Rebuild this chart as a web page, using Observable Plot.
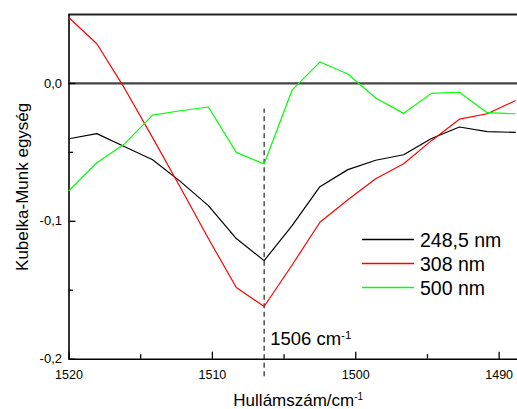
<!DOCTYPE html>
<html>
<head>
<meta charset="utf-8">
<script src="https://cdn.jsdelivr.net/npm/d3@7"></script>
<script src="https://cdn.jsdelivr.net/npm/@observablehq/plot@0.6"></script>
<style>
  html, body { margin: 0; padding: 0; background: #fff; }
  #chart { width: 517px; height: 409px; }
</style>
</head>
<body>
<div id="chart"></div>
<script>
// ---- data ----
const wavenumbers = [1520.00, 1518.06, 1516.11, 1514.17, 1512.22, 1510.28, 1508.33, 1506.39, 1504.44, 1502.50, 1500.55, 1498.61, 1496.66, 1494.72, 1492.77, 1490.83, 1488.88];
const series248 = [-0.0401, -0.0364, -0.0459, -0.0553, -0.0712, -0.0886, -0.1125, -0.1285, -0.1031, -0.0749, -0.0625, -0.0557, -0.0517, -0.0399, -0.0316, -0.0350, -0.0355];
const series308 = [0.0476, 0.0288, -0.0038, -0.0393, -0.0756, -0.1125, -0.1480, -0.1618, -0.1317, -0.1007, -0.0843, -0.0691, -0.0582, -0.0415, -0.0259, -0.0220, -0.0125];
const series500 = [-0.0778, -0.0575, -0.0437, -0.0230, -0.0198, -0.0171, -0.0500, -0.0584, -0.0048, 0.0155, 0.0068, -0.0106, -0.0217, -0.0072, -0.0064, -0.0212, -0.0220];
const seriesNames = ["248,5 nm", "308 nm", "500 nm"];
const seriesColors = ["#000000", "#ff0000", "#00ff00"];
const xMajorTicks = [1520, 1510, 1500, 1490];
const xMinorTicks = [1515, 1505, 1495];
const yMajorTicks = [0, -0.1, -0.2];
const yMinorTicks = [-0.05, -0.15];
const xDomain = [1520, 1488.72];
const yDomain = [-0.2, 0.05];
const peakWavenumber = 1506.39;
const peakLabel = "1506 cm";
const xTitle = "Hullámszám/cm";
const yTitle = "Kubelka-Munk egység";

// ---- build table ----
const allSeries = [series248, series308, series500];
const rows = [];
allSeries.forEach((vals, s) => vals.forEach((v, i) => rows.push({x: wavenumbers[i], y: v, s: seriesNames[s]})));

const W = 517, H = 409;
const mL = 68.5, mR = 0, mT = 14, mB = 50.3;
const plotH = H - mT - mB;
const pxToY = (px) => px * (yDomain[1] - yDomain[0]) / plotH;
const pxToX = (px) => px * (xDomain[0] - xDomain[1]) / (W - mL - mR);
const fmt = d => d.toFixed(1).replace(".", ",");
const font = "'Liberation Sans', Arial, Helvetica, sans-serif";

const chart = Plot.plot({
  width: W, height: H,
  marginLeft: mL, marginRight: mR, marginTop: mT, marginBottom: mB,
  style: {fontFamily: font, background: "#fff", color: "#000"},
  x: {domain: xDomain, axis: null},
  y: {domain: yDomain, axis: null},
  color: {domain: seriesNames, range: seriesColors},
  marks: [
    // zero line & top frame
    Plot.ruleY([0], {stroke: "#444", strokeWidth: 2.2}),
    Plot.ruleY([yDomain[1]], {stroke: "#222", strokeWidth: 1.8}),
    // axes lines
    Plot.ruleX([xDomain[0]], {stroke: "#000", strokeWidth: 1.6}),
    Plot.ruleY([yDomain[0]], {stroke: "#000", strokeWidth: 1.6}),
    // inward ticks
    Plot.ruleX(xMajorTicks, {y1: yDomain[0], y2: yDomain[0] + pxToY(7), stroke: "#000", strokeWidth: 1.3}),
    Plot.ruleX(xMinorTicks, {y1: yDomain[0], y2: yDomain[0] + pxToY(4.5), stroke: "#000", strokeWidth: 1.3}),
    Plot.ruleY(yMajorTicks, {x1: xDomain[0], x2: xDomain[0] - pxToX(7), stroke: "#000", strokeWidth: 1.3}),
    Plot.ruleY(yMinorTicks, {x1: xDomain[0], x2: xDomain[0] - pxToX(4.5), stroke: "#000", strokeWidth: 1.3}),
    // tick labels
    Plot.axisX({ticks: xMajorTicks, tickSize: 0, tickPadding: 11, tickFormat: d => String(d), fontSize: 12.5, label: null}),
    Plot.axisY({ticks: yMajorTicks, tickSize: 0, tickPadding: 7, tickFormat: fmt, fontSize: 13, label: null}),
    // dashed marker
    Plot.ruleX([peakWavenumber], {y1: yDomain[0] - pxToY(17.5), y2: -0.0185, stroke: "#222", strokeWidth: 1.2, strokeDasharray: "5,3.5", clip: false}),
    // data lines
    Plot.line(rows, {x: "x", y: "y", z: "s", stroke: "s", strokeWidth: 1.2}),
    // annotation
    Plot.text([peakLabel], {x: peakWavenumber, y: yDomain[0] + pxToY(14), dx: 6, textAnchor: "start", lineAnchor: "bottom", fontSize: 18.5, fill: "#000"}),
    // axis titles
    Plot.text([xTitle], {frameAnchor: "bottom", dy: 41, dx: 5, fontSize: 17, fill: "#000", textAnchor: "middle", lineAnchor: "middle"}),
    Plot.text([yTitle], {frameAnchor: "left", dx: -46.5, rotate: -90, fontSize: 17, fill: "#000", textAnchor: "middle", lineAnchor: "middle"})
  ]
});

// superscripts
const svg = d3.select(chart);
svg.selectAll("text").filter(function() { return this.textContent === peakLabel || this.textContent === xTitle; })
  .each(function() {
    const t = d3.select(this);
    const fs = this.textContent === peakLabel ? 11.5 : 10;
    t.append("tspan").attr("dy", "-0.55em").attr("font-size", fs).text("-1");
  });

// legend (inside plot)
const legend = svg.append("g").attr("font-family", font).attr("font-size", 19.5).attr("text-anchor", "start");
seriesNames.forEach((name, i) => {
  const yy = 239.5 + i * 24;
  legend.append("line").attr("x1", 362).attr("x2", 414).attr("y1", yy).attr("y2", yy)
    .attr("stroke", seriesColors[i]).attr("stroke-width", 1.3);
  legend.append("text").attr("x", 420).attr("y", yy).attr("dy", "0.36em").attr("fill", "#000").text(name);
});

document.getElementById("chart").appendChild(chart);
</script>
</body>
</html>
